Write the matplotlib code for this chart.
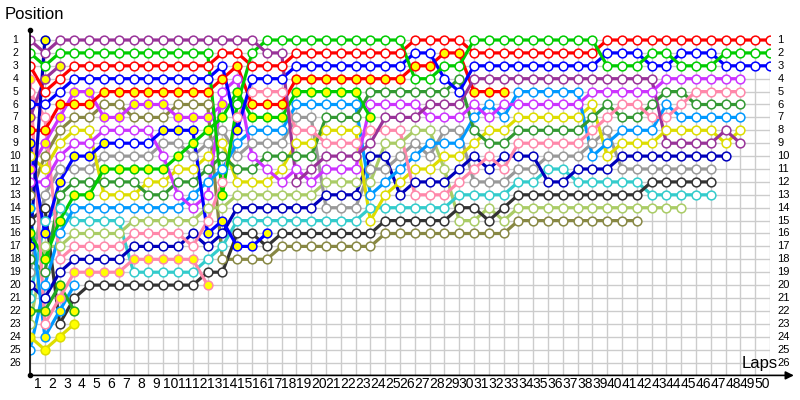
import matplotlib
matplotlib.use("Agg")
import matplotlib.pyplot as plt

plt.rcParams['font.family'] = ['Liberation Sans', 'DejaVu Sans']

N_LAPS = 50
N_POS = 26

# running position per lap (index 0 = grid) for every car
purple = [1, 2, 1, 1, 1, 1, 1, 1, 1, 1, 1, 1, 1, 1, 1, 1, 2, 2, 12, 11, 10, 10, 10, 9, 7, 7, 7, 6, 6, 6,
          4, 4, 4, 4, 4, 4, 4, 4, 4, 4, 4, 4, 4, 9, 9, 9, 9, 8, 9]
green = [2, 3, 2, 2, 2, 2, 2, 2, 2, 2, 2, 2, 2, 13, 6, 2, 1, 1, 1, 1, 1, 1, 1, 1, 1, 1, 4, 4, 3, 3,
         1, 1, 1, 1, 1, 1, 1, 1, 1, 3, 3, 3, 2, 2, 3, 3, 3, 2, 2, 2, 2]
red = [3, 5, 4, 3, 3, 3, 3, 3, 3, 3, 3, 3, 3, 2, 2, 3, 3, 3, 2, 2, 2, 2, 2, 2, 2, 2, 1, 1, 1, 1,
       2, 2, 2, 2, 2, 2, 2, 2, 2, 1, 1, 1, 1, 1, 1, 1, 1, 1, 1, 1, 1]
blue = [6, 6, 5, 4, 4, 4, 4, 4, 4, 4, 4, 4, 4, 3, 8, 4, 4, 4, 3, 3, 3, 3, 3, 3, 3, 3, 2, 2, 4, 5,
        3, 3, 3, 3, 3, 3, 3, 3, 3, 2, 2, 2, 3, 3, 2, 2, 2, 3, 3, 3, 3]
violet = [12, 12, 10, 9, 9, 8, 8, 8, 8, 10, 13, 14, 13, 5, 4, 10, 11, 12, 11, 12, 11, 11, 11, 6, 6,
          6, 6, 7, 7, 7, 6, 7, 6, 6, 6, 6, 6, 6, 5, 5, 5, 5, 5, 4, 4, 4, 4, 4, 4]
pink = [5, 7, 18, 17, 17, 17, 17, 16, 16, 16, 16, 17, 15, 12, 7, 5, 5, 5, 8, 8, 9, 9, 9, 8, 8, 8,
        13, 13, 13, 12, 11, 10, 11, 9, 9, 9, 9, 9, 8, 7, 6, 6, 7, 7, 6, 5, 5, 5, 5]
dkgreen = [18, 19, 13, 12, 12, 12, 12, 12, 13, 13, 12, 12, 11, 10, 11, 11, 10, 10, 10, 10, 7, 7, 7,
           5, 5, 5, 5, 5, 5, 4, 8, 9, 9, 8, 8, 8, 8, 8, 7, 6, 7, 7, 6, 5, 5, 6, 6, 6, 6]
ltblue = [25, 20, 16, 14, 14, 14, 14, 14, 14, 14, 14, 13, 12, 11, 9, 8, 8, 8, 6, 6, 6, 6, 6, 13, 12,
          11, 10, 9, 9, 9, 7, 6, 7, 5, 5, 5, 5, 5, 10, 9, 8, 8, 8, 6, 7, 7, 7, 7, 7]
yellow = [10, 11, 9, 8, 8, 13, 13, 13, 12, 12, 11, 11, 10, 9, 12, 12, 12, 11, 9, 9, 8, 8, 8, 15, 13,
          12, 11, 11, 10, 10, 9, 8, 8, 7, 7, 7, 7, 7, 6, 10, 9, 9, 9, 8, 8, 8, 8, 9, 8]
navy = [20, 21, 19, 18, 18, 18, 18, 17, 17, 17, 17, 16, 17, 16, 14, 14, 14, 14, 14, 14, 13, 13, 13,
        10, 10, 13, 12, 12, 12, 11, 10, 11, 10, 10, 10, 12, 12, 11, 11, 11, 10, 10, 10, 10, 10, 10, 10, 10]
grey = [19, 13, 11, 11, 11, 10, 10, 10, 10, 9, 9, 10, 9, 8, 10, 9, 9, 9, 7, 7, 14, 14, 14, 11, 11,
        10, 9, 10, 8, 8, 12, 12, 12, 11, 11, 10, 10, 10, 9, 8, 11, 11, 11, 11, 11, 11, 11]
dkgrey = [15, 14, 23, 21, 20, 20, 20, 20, 20, 20, 20, 20, 19, 19, 16, 16, 17, 16, 16, 16, 16, 16, 16,
          16, 15, 15, 15, 15, 15, 14, 14, 15, 14, 13, 13, 13, 13, 13, 13, 13, 13, 13, 12, 12, 12, 12, 12]
cyan = [21, 15, 14, 15, 15, 15, 15, 19, 19, 19, 19, 19, 18, 17, 15, 15, 15, 15, 15, 15, 15, 15, 15,
        14, 14, 14, 14, 14, 14, 13, 13, 13, 13, 12, 12, 11, 11, 12, 12, 12, 12, 12, 13, 13, 13, 13, 13]
ltgreen = [23, 17, 17, 16, 16, 16, 16, 15, 15, 15, 15, 15, 14, 14, 13, 13, 13, 13, 13, 13, 12, 12, 12,
           12, 9, 9, 8, 8, 11, 15, 15, 14, 15, 14, 14, 14, 14, 14, 14, 14, 14, 14, 14, 14, 14]
olive = [13, 10, 8, 7, 7, 6, 6, 7, 7, 7, 6, 6, 6, 18, 18, 18, 18, 17, 17, 17, 17, 17, 17, 17, 16, 16,
         16, 16, 16, 16, 16, 16, 16, 15, 15, 15, 15, 15, 15, 15, 15, 15]
# cars that retired
navy_b = [17, 1]
purple_b = [7, 4, 3]
red_b = [8, 8, 6, 6, 6, 5, 5, 5, 5, 5, 5, 5, 5, 4, 3, 6, 6, 6, 4, 4, 4, 4, 4, 4, 4, 4, 3, 3, 2, 2, 5, 5, 5]
blue_b = [9, 16, 12, 10, 10, 9, 9, 9, 9, 8, 8, 8, 16, 15, 17, 17, 16]
violet_b = [11, 9, 7, 5, 5, 7, 7, 6, 6, 6, 7, 7, 7, 6]
pink_b = [4, 23, 21, 19, 19, 19, 19, 18, 18, 18, 18, 18, 20]
green_b = [16, 18, 15, 13, 13, 11, 11, 11, 11, 11, 10, 9, 8, 7, 5, 7, 7, 7, 5, 5, 5, 5, 5, 7]
green_c = [22, 22, 20, 22]
ltblue_b = [14, 24, 22, 20]
yellow_b = [24, 25, 24, 23]

ALL = 'all'
drivers = [
    (olive, '#888844', []),
    (ltgreen, '#aacc66', []),
    (cyan, '#33cccc', []),
    (dkgrey, '#333333', []),
    (grey, '#999999', []),
    (navy, '#0000bb', []),
    (yellow, '#dddd00', []),
    (ltblue, '#0099ff', []),
    (dkgreen, '#339933', []),
    (pink, '#ff88aa', []),
    (violet, '#cc33ff', []),
    (yellow_b, '#dddd00', ALL),
    (ltblue_b, '#0099ff', [0, 1, 2]),
    (green_c, '#22aa22', ALL),
    (green_b, '#00cc00', ALL),
    (pink_b, '#ff88aa', [0, 2, 3, 4, 5, 6, 7, 8, 9, 10, 11, 12]),
    (violet_b, '#cc33ff', ALL),
    (blue_b, '#0000ff', [0, 1, 2, 3, 4, 5, 9, 10, 11, 12, 13, 14, 15, 16]),
    (red_b, '#ff0000', ALL),
    (purple_b, '#993399', ALL),
    (navy_b, '#0000bb', ALL),
    (blue, '#0000ff', [14]),
    (red, '#ff0000', []),
    (green, '#00cc00', [13]),
    (purple, '#993399', []),
]

fig = plt.figure(figsize=(8, 4), dpi=100)
ax = fig.add_axes([30 / 800, (400 - 375.4) / 400, 740 / 800, (375.4 - 27.1) / 400])
ax.set_xlim(0, N_LAPS)
ax.set_ylim(27, 0)
ax.axis('off')

# grid
for lap in range(N_LAPS + 1):
    ax.plot([lap, lap], [1, 27], color='#cccccc', lw=1, zorder=1)
for p in range(1, N_POS + 1):
    ax.plot([0, N_LAPS], [p, p], color='#cccccc', lw=1, zorder=1)

# axes with arrow
ax.plot([0, 0], [0.2, 27], color='black', lw=1.2, zorder=5, clip_on=False)
ax.plot([0], [0.2], 'o', color='black', ms=3, zorder=5, clip_on=False)
ax.plot([0], [27], 'o', color='black', ms=3, zorder=5, clip_on=False)
ax.annotate('', xy=(51.8, 27), xytext=(0, 27),
            arrowprops=dict(arrowstyle='-|>', color='black', lw=1.2, mutation_scale=12),
            annotation_clip=False, zorder=5)

for p in range(1, N_POS + 1):
    ax.text(-1.0, p, str(p), ha='center', va='center', fontsize=7.5, clip_on=False)
    ax.text(50.5, p, str(p), ha='left', va='center', fontsize=8, clip_on=False)
for lap in range(1, N_LAPS + 1):
    ax.text(lap - 0.5, 27.7, str(lap), ha='center', va='center', fontsize=10, clip_on=False)

ax.text(-1.7, -1.0, 'Position', ha='left', va='center', fontsize=12, clip_on=False)
ax.text(48.1, 26.1, 'Laps', ha='left', va='center', fontsize=12, clip_on=False)

for pos, col, filled in drivers:
    xs = list(range(len(pos)))
    ax.plot(xs, pos, color=col, lw=2.3, zorder=3, solid_capstyle='round')
    for x, y in zip(xs, pos):
        fc = '#ffff00' if (filled == ALL or x in filled) else 'white'
        ax.plot(x, y, 'o', ms=6.3, mfc=fc, mec=col, mew=1.1, zorder=4)

fig.savefig('out.png', dpi=100)
